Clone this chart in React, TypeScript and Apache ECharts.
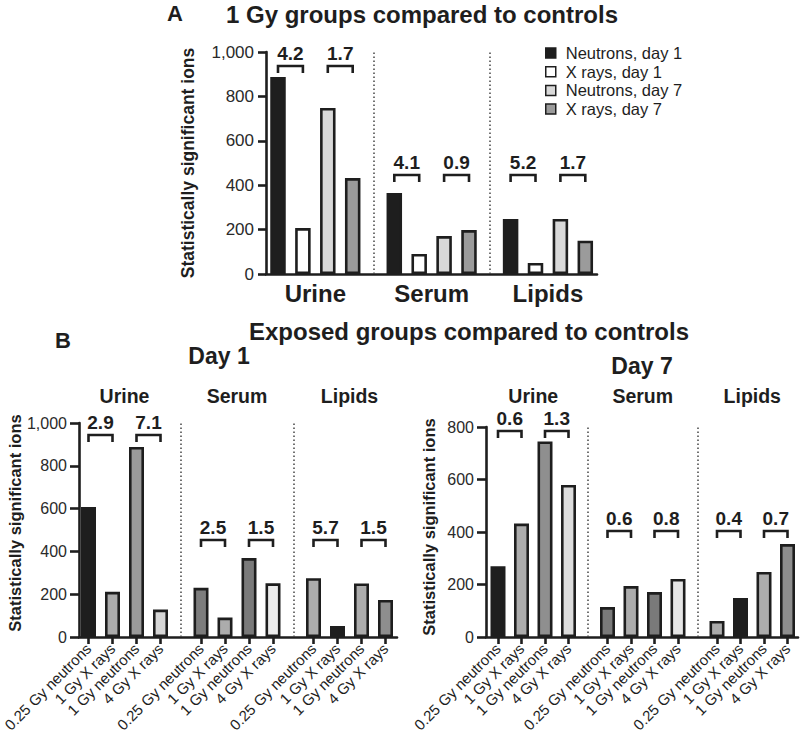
import React, { useEffect, useRef } from "react";
import * as echarts from "echarts";

const FONT = '"Liberation Sans", Arial, Helvetica, sans-serif';
const INK = "#1e1e1e";

// ---------- data ----------
const GROUPS = ["Urine", "Serum", "Lipids"];
const A_SERIES_NAMES = ["Neutrons, day 1", "X rays, day 1", "Neutrons, day 7", "X rays, day 7"];
const A_NEUTRONS_D1 = [887, 365, 248];
const A_XRAYS_D1 = [207, 90, 50];
const A_NEUTRONS_D7 = [748, 171, 248];
const A_XRAYS_D7 = [432, 198, 150];
const A_COLORS = ["#1e1e1e", "#ffffff", "#d9d9d9", "#9b9b9b"];
const A_RATIOS = [4.2, 1.7, 4.1, 0.9, 5.2, 1.7];

const B_BAR_LABELS = ["0.25 Gy neutrons", "1 Gy X rays", "1 Gy neutrons", "4 Gy X rays"];

const DAY1_URINE = [607, 211, 888, 128];
const DAY1_SERUM = [230, 91, 369, 251];
const DAY1_LIPIDS = [275, 51, 250, 173];
const DAY1_COLORS = [
  ["#1e1e1e", "#acacac", "#9a9a9a", "#d6d6d6"],
  ["#7d7d7d", "#acacac", "#7a7a7a", "#ececec"],
  ["#acacac", "#1e1e1e", "#acacac", "#8e8e8e"],
];
const DAY1_RATIOS = [2.9, 7.1, 2.5, 1.5, 5.7, 1.5];

const DAY7_URINE = [270, 432, 745, 579];
const DAY7_SERUM = [114, 194, 171, 221];
const DAY7_LIPIDS = [61, 149, 248, 354];
const DAY7_COLORS = [
  ["#1e1e1e", "#acacac", "#8f8f8f", "#dcdcdc"],
  ["#7a7a7a", "#acacac", "#7a7a7a", "#e6e6e6"],
  ["#acacac", "#1e1e1e", "#acacac", "#8e8e8e"],
];
const DAY7_RATIOS = [0.6, 1.3, 0.6, 0.8, 0.4, 0.7];

const Y_NAME = "Statistically significant ions";

// ---------- layout ----------
type Layout = {
  left: number; top: number; width: number; height: number;
  first: number; group: number; bar: number; barWidth: number;
  bracketY: number[]; yMax: number;
};
const LA: Layout = { left: 266, top: 52, width: 331, height: 222, first: 12, group: 116.3, bar: 24.9, barWidth: 15.5, bracketY: [937, 446, 446], yMax: 1000 };
const LB1: Layout = { left: 79, top: 423, width: 318, height: 214, first: 9.5, group: 112.5, bar: 24, barWidth: 15, bracketY: [944, 453, 453], yMax: 1000 };
const LB2: Layout = { left: 486, top: 427, width: 312, height: 210, first: 12, group: 109.5, bar: 23.5, barWidth: 15, bracketY: [785, 404, 404], yMax: 800 };

const BAR_BORDER = 2.6;

const pos = (L: Layout, g: number, b: number) => L.first + g * L.group + b * L.bar;
const centers = (L: Layout) => GROUPS.map((_, g) => pos(L, g, 1.5));
const barPositions = (L: Layout) => {
  const out: number[] = [];
  GROUPS.forEach((_, g) => B_BAR_LABELS.forEach((__, b) => out.push(pos(L, g, b))));
  return out;
};
const separators = (L: Layout) => [0, 1].map((g) => (pos(L, g, 3) + pos(L, g + 1, 0)) / 2);
const labelAt = (positions: number[], labels: string[]) => (v: number) => {
  const i = positions.findIndex((p) => Math.abs(p - v) < 0.01);
  return i >= 0 ? labels[i] : "";
};

const sepMarkLine = (L: Layout) => ({
  silent: true,
  symbol: ["none", "none"],
  label: { show: false },
  lineStyle: { color: "#444", width: 1.5, type: [1.5, 2.5] },
  data: separators(L).map((x) => ({ xAxis: x })),
});

function bracketSeries(name: string, xi: number, yi: number, L: Layout, ratios: number[]) {
  const data: number[][] = [];
  GROUPS.forEach((_, g) => {
    [0, 1].forEach((p) => data.push([pos(L, g, 2 * p), pos(L, g, 2 * p + 1), L.bracketY[g]]));
  });
  return {
    type: "custom",
    name,
    xAxisIndex: xi,
    yAxisIndex: yi,
    data,
    encode: { x: [0, 1], y: 2 },
    clip: false,
    silent: true,
    z: 5,
    renderItem: (params: any, api: any) => {
      const a = api.coord([api.value(0), api.value(2)]);
      const b = api.coord([api.value(1), api.value(2)]);
      return {
        type: "group",
        children: [
          {
            type: "polyline",
            shape: { points: [[a[0], a[1] + 7], [a[0], a[1]], [b[0], b[1]], [b[0], b[1] + 7]] },
            style: { stroke: INK, lineWidth: 2.6, fill: null },
          },
          {
            type: "text",
            x: (a[0] + b[0]) / 2,
            y: a[1] - 3,
            style: {
              text: ratios[params.dataIndex].toFixed(1),
              fill: INK,
              fontSize: 19,
              fontWeight: "bold",
              fontFamily: FONT,
              align: "center",
              verticalAlign: "bottom",
            },
          },
        ],
      };
    },
  };
}

function bSeries(name: string, xi: number, yi: number, L: Layout, groups: number[][], colors: string[][]) {
  const data: any[] = [];
  groups.forEach((vals, g) =>
    vals.forEach((v, b) => data.push({ value: [pos(L, g, b), v], itemStyle: { color: colors[g][b] } }))
  );
  return {
    type: "bar",
    name,
    xAxisIndex: xi,
    yAxisIndex: yi,
    barWidth: L.barWidth,
    itemStyle: { borderColor: INK, borderWidth: BAR_BORDER },
    data,
    markLine: sepMarkLine(L),
  };
}

function yAxisFor(gi: number, L: Layout, fontSize: number, nameGap: number, nameSize: number, tickLen: number, namePad: number) {
  return {
    type: "value",
    gridIndex: gi,
    min: 0,
    max: L.yMax,
    interval: 200,
    axisLine: { show: true, onZero: false, lineStyle: { color: INK, width: 2.6 } },
    axisTick: { show: true, length: tickLen, lineStyle: { color: INK, width: 2.6 } },
    splitLine: { show: false },
    axisLabel: {
      color: "#2a2a2a",
      fontSize,
      fontFamily: FONT,
      margin: 12,
      formatter: (v: number) => v.toLocaleString("en-US"),
    },
    name: Y_NAME,
    nameLocation: "middle",
    nameGap,
    nameTextStyle: { color: INK, fontSize: nameSize, fontWeight: "bold", fontFamily: FONT, padding: [0, 0, 0, namePad] },
  };
}

function bottomAxisB(gi: number, L: Layout) {
  const bp = barPositions(L);
  const labels: string[] = [];
  GROUPS.forEach(() => B_BAR_LABELS.forEach((l) => labels.push(l)));
  return {
    type: "value",
    gridIndex: gi,
    min: 0,
    max: L.width,
    axisLine: { show: true, onZero: false, lineStyle: { color: INK, width: 2.6 } },
    axisTick: { show: true, customValues: bp, length: 7, lineStyle: { color: INK, width: 2.6 } },
    splitLine: { show: false },
    axisLabel: {
      customValues: bp,
      rotate: 45,
      margin: 9,
      color: INK,
      fontSize: 15,
      fontFamily: FONT,
      formatter: labelAt(bp, labels),
    },
  };
}

function topAxisB(gi: number, L: Layout, margin: number) {
  const c = centers(L);
  return {
    type: "value",
    gridIndex: gi,
    position: "top",
    min: 0,
    max: L.width,
    axisLine: { show: false, onZero: false },
    axisTick: { show: false },
    splitLine: { show: false },
    axisLabel: {
      customValues: c,
      margin,
      color: INK,
      fontSize: 19.5,
      fontWeight: "bold",
      fontFamily: FONT,
      formatter: labelAt(c, GROUPS),
    },
  };
}

const gridFor = (L: Layout) => ({
  left: L.left,
  top: L.top,
  width: L.width,
  height: L.height,
  containLabel: false,
  outerBoundsMode: "none",
});

const titleText = (text: string, x: number, y: number, size: number) => ({
  type: "text",
  x,
  y,
  silent: true,
  style: {
    text,
    fill: INK,
    fontSize: size,
    fontWeight: "bold",
    fontFamily: FONT,
    align: "center",
    textAlign: "center",
    verticalAlign: "middle",
    textVerticalAlign: "middle",
  },
});

export default function App() {
  const ref = useRef<HTMLDivElement>(null);

  useEffect(() => {
    document.body.style.margin = "0";
    if (!ref.current) return;
    const chart = echarts.init(ref.current, undefined, { renderer: "svg" });

    const aValues = [A_NEUTRONS_D1, A_XRAYS_D1, A_NEUTRONS_D7, A_XRAYS_D7];
    const aCenters = centers(LA);

    const aSeries = A_SERIES_NAMES.map((name, s) => ({
      type: "bar",
      name,
      xAxisIndex: 0,
      yAxisIndex: 0,
      barWidth: LA.barWidth,
      barGap: "-100%",
      itemStyle: { color: A_COLORS[s], borderColor: INK, borderWidth: BAR_BORDER },
      data: GROUPS.map((_, g) => [pos(LA, g, s), aValues[s][g]]),
      ...(s === 0 ? { markLine: sepMarkLine(LA) } : {}),
    }));

    const option: any = {
      animation: false,
      backgroundColor: "#ffffff",
      textStyle: { fontFamily: FONT },
      grid: [gridFor(LA), gridFor(LB1), gridFor(LB2)],
      legend: {
        data: A_SERIES_NAMES,
        orient: "vertical",
        left: 540,
        top: 39,
        itemWidth: 10,
        itemHeight: 10,
        itemGap: 0.7,
        icon: "rect",
        selectedMode: false,
        itemStyle: { borderWidth: 1.5 },
        textStyle: { color: INK, fontSize: 16.5, fontFamily: FONT, lineHeight: 18, padding: [0, 0, 0, 5] },
      },
      xAxis: [
        {
          type: "value",
          gridIndex: 0,
          min: 0,
          max: LA.width,
          axisLine: { show: true, onZero: false, lineStyle: { color: INK, width: 2.6 } },
          axisTick: { show: false },
          splitLine: { show: false },
          axisLabel: {
            customValues: aCenters,
            margin: 7,
            color: INK,
            fontSize: 24,
            fontWeight: "bold",
            fontFamily: FONT,
            formatter: labelAt(aCenters, GROUPS),
          },
        },
        bottomAxisB(1, LB1),
        topAxisB(1, LB1, 17),
        bottomAxisB(2, LB2),
        topAxisB(2, LB2, 21),
      ],
      yAxis: [
        yAxisFor(0, LA, 17, 69, 17.5, 8, 0),
        yAxisFor(1, LB1, 16, 54, 16.5, 9, 14),
        yAxisFor(2, LB2, 16, 49, 16.5, 9, 10),
      ],
      series: [
        ...aSeries,
        bracketSeries("brackets A", 0, 0, LA, A_RATIOS),
        bSeries("day 1", 1, 1, LB1, [DAY1_URINE, DAY1_SERUM, DAY1_LIPIDS], DAY1_COLORS),
        bracketSeries("brackets day 1", 1, 1, LB1, DAY1_RATIOS),
        bSeries("day 7", 3, 2, LB2, [DAY7_URINE, DAY7_SERUM, DAY7_LIPIDS], DAY7_COLORS),
        bracketSeries("brackets day 7", 3, 2, LB2, DAY7_RATIOS),
      ],
      graphic: [
        titleText("A", 175, 13, 22),
        titleText("1 Gy groups compared to controls", 422, 14, 24),
        titleText("B", 63, 340, 22),
        titleText("Exposed groups compared to controls", 469, 331, 24),
        titleText("Day 1", 219, 356, 23),
        titleText("Day 7", 642, 366, 23),
      ],
    };

    chart.setOption(option);
    return () => chart.dispose();
  }, []);

  return <div ref={ref} style={{ width: 800, height: 745 }} />;
}
